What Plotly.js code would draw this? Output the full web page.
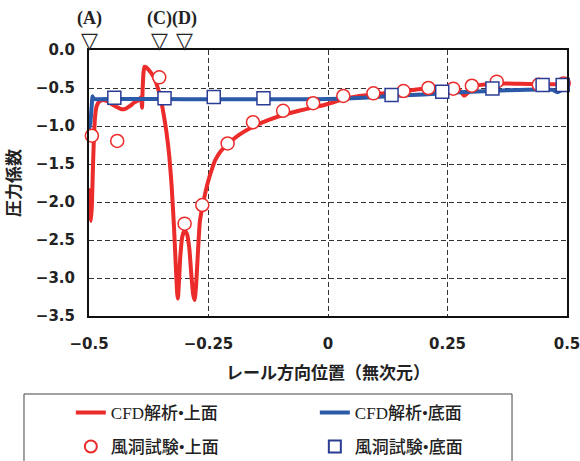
<!DOCTYPE html>
<html>
<head>
<meta charset="utf-8">
<script src="https://cdn.plot.ly/plotly-3.0.1.min.js"></script>
<style>
  html, body { margin: 0; padding: 0; background: #ffffff; }
  #chart { width: 580px; height: 461px; }
</style>
</head>
<body>
<div id="chart"></div>
<script>
// ---- data ----
const cfdTopX = [-0.500, -0.498, -0.496, -0.494, -0.492, -0.4895, -0.487, -0.484, -0.479, -0.472,
  -0.463, -0.453, -0.442, -0.432, -0.424, -0.415, -0.405, -0.396, -0.391, -0.389,
  -0.388, -0.386, -0.384, -0.380, -0.374, -0.368, -0.362, -0.356, -0.350, -0.344,
  -0.338, -0.332, -0.327, -0.322, -0.318, -0.3155, -0.314, -0.312, -0.309, -0.305,
  -0.300, -0.295, -0.290, -0.286, -0.282, -0.279, -0.276, -0.272, -0.268, -0.262,
  -0.256, -0.250, -0.243, -0.236, -0.224, -0.210, -0.187, -0.157, -0.124, -0.094,
  -0.061, -0.031, 0.000, 0.033, 0.060, 0.093, 0.125, 0.156, 0.185, 0.215,
  0.240, 0.262, 0.275, 0.285, 0.293, 0.302, 0.313, 0.340, 0.368, 0.400,
  0.440, 0.473, 0.500];
const cfdTopY = [-1.82, -2.10, -2.25, -2.05, -1.60, -1.12, -0.86, -0.74, -0.68, -0.66,
  -0.67, -0.71, -0.75, -0.78, -0.775, -0.74, -0.69, -0.66, -0.62, -0.76,
  -0.55, -0.30, -0.22, -0.23, -0.27, -0.32, -0.39, -0.50, -0.64, -0.84,
  -1.08, -1.40, -1.80, -2.35, -2.90, -3.20, -3.27, -3.08, -2.72, -2.46,
  -2.37, -2.42, -2.62, -2.95, -3.22, -3.29, -3.10, -2.65, -2.25, -2.04,
  -1.86, -1.71, -1.57, -1.45, -1.33, -1.24, -1.12, -1.01, -0.92, -0.855,
  -0.80, -0.755, -0.71, -0.645, -0.61, -0.585, -0.565, -0.545, -0.52, -0.50,
  -0.495, -0.50, -0.53, -0.60, -0.56, -0.49, -0.465, -0.45, -0.44, -0.445,
  -0.45, -0.45, -0.455];

const cfdBottomX = [-0.500, -0.497, -0.494, -0.493, -0.491, -0.488, -0.45, -0.35, -0.25, -0.15,
  -0.05, 0.00, 0.05, 0.10, 0.15, 0.20, 0.25, 0.30, 0.35, 0.40,
  0.45, 0.47, 0.48, 0.49, 0.50];
const cfdBottomY = [-1.05, -0.95, -0.70, -0.61, -0.63, -0.645, -0.645, -0.645, -0.648, -0.648,
  -0.648, -0.645, -0.635, -0.62, -0.60, -0.585, -0.565, -0.55, -0.535, -0.525,
  -0.52, -0.525, -0.555, -0.52, -0.50];

const windTopX = [-0.494, -0.441, -0.353, -0.300, -0.263, -0.210, -0.157, -0.094, -0.031,
  0.032, 0.095, 0.158, 0.210, 0.262, 0.301, 0.353, 0.441, 0.493];
const windTopY = [-1.128, -1.197, -0.36, -2.285, -2.04, -1.23, -0.95, -0.80, -0.70,
  -0.605, -0.57, -0.54, -0.50, -0.509, -0.47, -0.417, -0.456, -0.44];

const windBottomX = [-0.447, -0.342, -0.239, -0.135, 0.133, 0.239, 0.344, 0.449, 0.491];
const windBottomY = [-0.627, -0.636, -0.620, -0.636, -0.592, -0.548, -0.505, -0.46, -0.46];

const seriesNames = ['CFD解析\u2022上面', 'CFD解析\u2022底面', '風洞試験\u2022上面', '風洞試験\u2022底面'];

const pointLabels = ['(A)', '(C)', '(D)'];
const pointLabelX = [-0.498, -0.353, -0.301];

const xTickVals = [-0.5, -0.25, 0, 0.25, 0.5];
const xTickText = ['\u22120.5', '\u22120.25', '0', '0.25', '0.5'];
const yTickVals = [0, -0.5, -1.0, -1.5, -2.0, -2.5, -3.0, -3.5];
const yTickText = ['0.0', '\u22120.5', '\u22121.0', '\u22121.5', '\u22122.0', '\u22122.5', '\u22123.0', '\u22123.5'];

const xTitle = 'レール方向位置（無次元）';
const yTitle = '圧力係数';

// ---- styles ----
const RED = '#ec2b2b';
const BLUE = '#2a5aa8';
const NAVY = '#2b3c94';
const legendFont = {family: '"Liberation Serif", "Noto Sans CJK JP", serif', size: 17, color: '#222', weight: 500};

const traces = [
  {x: cfdTopX, y: cfdTopY, name: seriesNames[0], type: 'scatter', mode: 'lines',
   line: {color: RED, width: 4, shape: 'spline', smoothing: 0.5}, legend: 'legend'},
  {x: cfdBottomX, y: cfdBottomY, name: seriesNames[1], type: 'scatter', mode: 'lines',
   line: {color: BLUE, width: 4, shape: 'spline', smoothing: 0.5}, legend: 'legend'},
  {x: windTopX, y: windTopY, name: seriesNames[2], type: 'scatter', mode: 'markers', cliponaxis: false,
   marker: {symbol: 'circle', size: 13, color: '#ffffff', line: {color: RED, width: 1.5}}, legend: 'legend2'},
  {x: windBottomX, y: windBottomY, name: seriesNames[3], type: 'scatter', mode: 'markers', cliponaxis: false,
   marker: {symbol: 'square', size: 13, color: '#ffffff', line: {color: NAVY, width: 1.5}}, legend: 'legend2'}
];

const annotations = [];
pointLabels.forEach((t, i) => {
  annotations.push({x: pointLabelX[i], xref: 'x', y: 1.12, yref: 'paper', text: t, showarrow: false,
    xanchor: 'center', yanchor: 'middle',
    font: {family: '"Liberation Serif", serif', size: 18, color: '#222', weight: 'bold'}});
  annotations.push({x: pointLabelX[i], xref: 'x', y: 1.035, yref: 'paper', text: '\u25BD', showarrow: false,
    xanchor: 'center', yanchor: 'middle',
    font: {family: '"DejaVu Sans", sans-serif', size: 22, color: '#222', weight: 'bold'}});
});

const tickFont = {family: '"DejaVu Sans", sans-serif', size: 15, color: '#222', weight: 'bold'};
const titleFont = {family: '"Noto Sans CJK JP", sans-serif', size: 17, color: '#222', weight: 'bold'};

const layout = {
  width: 580, height: 461,
  margin: {l: 89, r: 13, t: 50, b: 145, pad: 0, autoexpand: false},
  paper_bgcolor: '#ffffff', plot_bgcolor: '#ffffff',
  showlegend: true,
  xaxis: {
    range: [-0.5, 0.5], tickvals: xTickVals, ticktext: xTickText,
    showgrid: true, gridcolor: '#333', gridwidth: 1, griddash: '5px,3px',
    zeroline: false, showline: true, linecolor: '#111', linewidth: 2, mirror: true,
    ticks: '', ticklabelstandoff: 13, ticklabeloverflow: 'allow', tickfont: tickFont, automargin: false,
    title: {text: xTitle, font: titleFont, standoff: 15}
  },
  yaxis: {
    range: [-3.5, 0], tickvals: yTickVals, ticktext: yTickText,
    showgrid: true, gridcolor: '#333', gridwidth: 1, griddash: '5px,3px',
    zeroline: false, showline: true, linecolor: '#111', linewidth: 2, mirror: true,
    ticks: '', ticklabelstandoff: 9, ticklabeloverflow: 'allow', tickfont: tickFont, automargin: false,
    title: {text: yTitle, font: titleFont, standoff: 12}
  },
  legend: {
    orientation: 'h', x: -0.038, xanchor: 'left', y: -0.3647, yanchor: 'middle',
    entrywidth: 199, entrywidthmode: 'pixels', bgcolor: 'rgba(0,0,0,0)', borderwidth: 0,
    font: legendFont, itemsizing: 'trace', traceorder: 'normal'
  },
  legend2: {
    orientation: 'h', x: -0.038, xanchor: 'left', y: -0.4925, yanchor: 'middle',
    entrywidth: 199, entrywidthmode: 'pixels', bgcolor: 'rgba(0,0,0,0)', borderwidth: 0,
    font: legendFont, itemsizing: 'constant', traceorder: 'normal'
  },
  shapes: [
    {type: 'rect', xref: 'paper', yref: 'paper', x0: -0.136, x1: 0.885, y0: -0.2932, y1: -0.62,
     line: {color: '#444', width: 1}, fillcolor: 'rgba(0,0,0,0)', layer: 'below'}
  ],
  annotations: annotations
};

Plotly.newPlot('chart', traces, layout, {displayModeBar: false, staticPlot: true});
</script>
</body>
</html>
